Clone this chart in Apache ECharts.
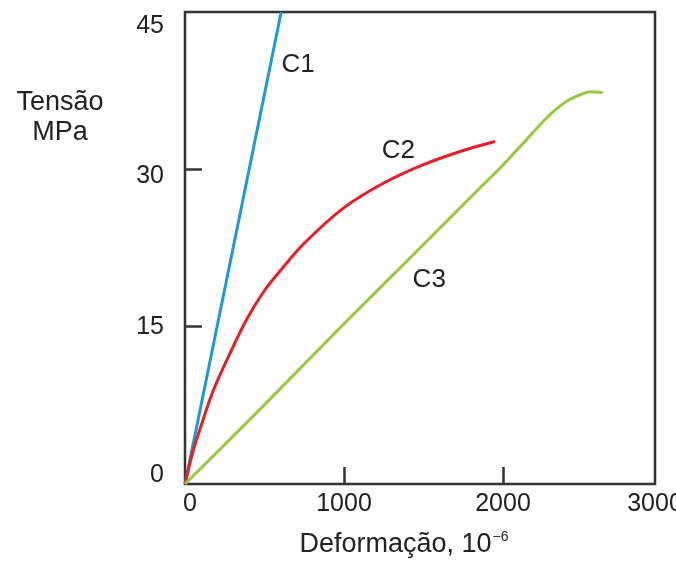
<!DOCTYPE html>
<html><head><meta charset="utf-8">
<script src="https://cdn.jsdelivr.net/npm/echarts@6/dist/echarts.min.js"></script>
<style>html,body{margin:0;padding:0;background:#fff}#c{width:676px;height:567px}</style>
</head><body><div id="c"></div>
<script>
var xTicks = [0, 1000, 2000, 3000];
var yTicks = [0, 15, 30, 45];
var c1 = [[0, 0], [605, 45]];
var c2 = [[0, 0], [50, 3.1], [100, 5.5], [175, 8.8], [275, 12.2], [390, 15.75], [500, 18.45], [600, 20.35], [750, 22.95], [1000, 26.35], [1250, 28.7], [1500, 30.45], [1750, 31.8], [1950, 32.66]];
var c3 = [[0, 0], [493, 7.45], [975, 14.9], [1478, 22.5], [1853, 28.2], [1981, 30.1], [2128, 32.5], [2233, 34.25], [2316, 35.5], [2400, 36.5], [2484, 37.1], [2547, 37.4], [2627, 37.3]];
var curveNames = ['C1', 'C2', 'C3'];
var curveLabelPos = [[711, 40.0], [1342, 31.8], [1536, 19.5]];

var FONT = "'Liberation Sans', Arial, sans-serif";
var FS = 25;
var FN = 27;
var TXT = '#222';
var AX = '#333';
var chart = echarts.init(document.getElementById('c'), null, {renderer: 'canvas'});
chart.setOption({
  animation: false,
  backgroundColor: '#fff',
  textStyle: {fontFamily: FONT},
  title: {
    text: 'Tensão\nMPa', left: 55, top: 83, textAlign: 'center',
    textStyle: {fontFamily: FONT, fontSize: FN, fontWeight: 'normal', lineHeight: 30, color: TXT}
  },
  grid: [
    {left: 185, top: 12, right: 14, bottom: 83, show: false, outerBoundsMode: 'none', containLabel: false},
    {left: 185, top: 12, right: 21, bottom: 83, show: true, borderColor: AX, borderWidth: 2.5, backgroundColor: 'transparent', outerBoundsMode: 'none', containLabel: false}
  ],
  xAxis: [{
    type: 'value', gridIndex: 0, min: 0, max: 3000, interval: 1000,
    axisLine: {show: false}, splitLine: {show: false},
    axisTick: {show: true, inside: true, length: 17, customValues: [1000, 2000], lineStyle: {color: AX, width: 2.5}},
    axisLabel: {
      customValues: xTicks, margin: 8, fontSize: FS, color: TXT, fontFamily: FONT,
      formatter: function (v) {
        if (v === 0) return '{z|0}';
        if (v === 3000) return '{r|3000}';
        return '{n|' + v + '}';
      },
      rich: {
        z: {fontSize: FS, color: TXT, fontFamily: FONT, padding: [0, 0, 0, 10]},
        r: {fontSize: FS, color: TXT, fontFamily: FONT, padding: [0, 14, 0, 0]},
        n: {fontSize: FS, color: TXT, fontFamily: FONT}
      }
    },
    name: '{b|Deformação, 10}{s|−6}', nameLocation: 'middle', nameGap: 46,
    nameTextStyle: {
      padding: [0, 39, 0, 0],
      rich: {b: {fontSize: FN, color: TXT, fontFamily: FONT}, s: {fontSize: 14, color: TXT, fontFamily: FONT, padding: [0, 0, 15, 1]}}
    }
  }, {
    type: 'value', gridIndex: 1, min: 0, max: 1, show: false
  }],
  yAxis: [{
    type: 'value', gridIndex: 0, min: 0, max: 45, interval: 15,
    axisLine: {show: false}, splitLine: {show: false},
    axisTick: {show: true, inside: true, length: 17, customValues: [15, 30], lineStyle: {color: AX, width: 2.5}},
    axisLabel: {
      customValues: yTicks, margin: 21, fontSize: FS, color: TXT, fontFamily: FONT,
      formatter: function (v) {
        if (v === 45) return '{t|45}';
        if (v === 30) return '{m|30}';
        if (v === 0) return '{u|0}';
        return '{n|' + v + '}';
      },
      rich: {
        t: {fontSize: FS, color: TXT, fontFamily: FONT, padding: [28, 0, 0, 0]},
        m: {fontSize: FS, color: TXT, fontFamily: FONT, padding: [14, 0, 0, 0]},
        u: {fontSize: FS, color: TXT, fontFamily: FONT, padding: [0, 0, 18, 0]},
        n: {fontSize: FS, color: TXT, fontFamily: FONT}
      }
    }
  }, {
    type: 'value', gridIndex: 1, min: 0, max: 1, show: false
  }],
  series: [
    {type: 'line', name: 'C1', data: c1, showSymbol: false, lineStyle: {color: '#1b9bd7', width: 3}, itemStyle: {color: '#1b9bd7'}},
    {type: 'line', name: 'C2', data: c2, smooth: 0.35, showSymbol: false, lineStyle: {color: '#ec1c24', width: 3}, itemStyle: {color: '#ec1c24'}},
    {type: 'line', name: 'C3', data: c3, smooth: 0.2, showSymbol: false, lineStyle: {color: '#97c93d', width: 3}, itemStyle: {color: '#97c93d'}},
    {
      type: 'scatter', symbolSize: 1, itemStyle: {color: 'rgba(0,0,0,0)', opacity: 1}, silent: true,
      data: curveLabelPos.map(function (p, i) { return {value: p, name: curveNames[i]}; }),
      label: {show: true, position: 'inside', formatter: '{b}', fontSize: 26, color: TXT, opacity: 1, fontFamily: FONT, textBorderWidth: 0}
    }
  ]
});
</script></body></html>
